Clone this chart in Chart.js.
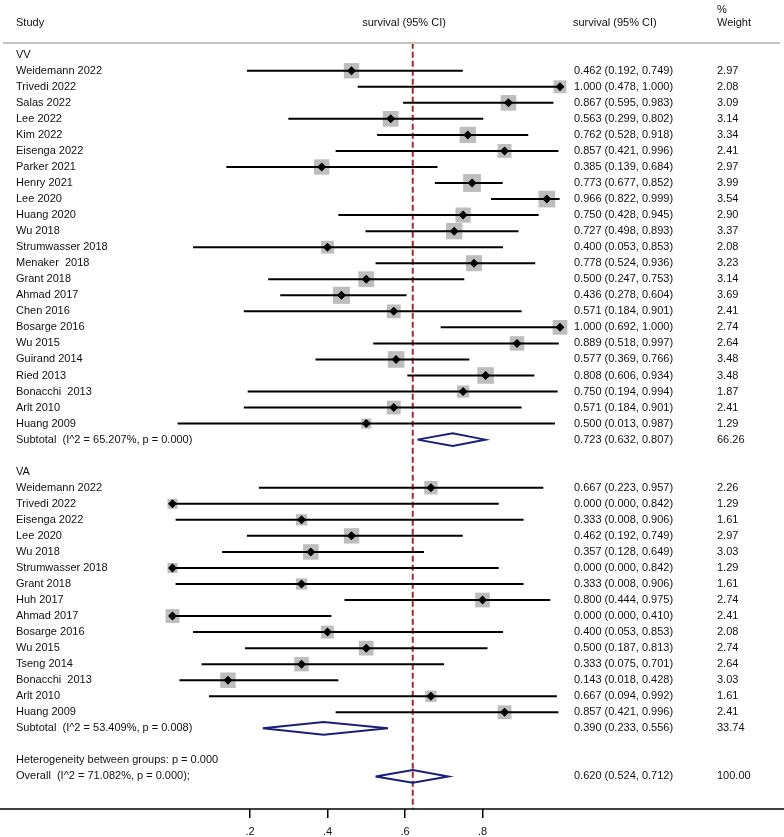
<!DOCTYPE html>
<html>
<head>
<meta charset="utf-8">
<script src="https://cdn.jsdelivr.net/npm/chart.js@4.4.1/dist/chart.umd.min.js"></script>
<style>
  body { margin: 0; background: #fff; }
  #wrap { width: 784px; height: 837px; }
</style>
</head>
<body>
<div id="wrap"><canvas id="forest" width="784" height="837"></canvas></div>
<script>
// group VV
const vvStudies = ["Weidemann 2022", "Trivedi 2022", "Salas 2022", "Lee 2022", "Kim 2022", "Eisenga 2022", "Parker 2021", "Henry 2021", "Lee 2020", "Huang 2020", "Wu 2018", "Strumwasser 2018", "Menaker  2018", "Grant 2018", "Ahmad 2017", "Chen 2016", "Bosarge 2016", "Wu 2015", "Guirand 2014", "Ried 2013", "Bonacchi  2013", "Arlt 2010", "Huang 2009"];
const vvEst = [0.462, 1.000, 0.867, 0.563, 0.762, 0.857, 0.385, 0.773, 0.966, 0.750, 0.727, 0.400, 0.778, 0.500, 0.436, 0.571, 1.000, 0.889, 0.577, 0.808, 0.750, 0.571, 0.500];
const vvLow = [0.192, 0.478, 0.595, 0.299, 0.528, 0.421, 0.139, 0.677, 0.822, 0.428, 0.498, 0.053, 0.524, 0.247, 0.278, 0.184, 0.692, 0.518, 0.369, 0.606, 0.194, 0.184, 0.013];
const vvHigh = [0.749, 1.000, 0.983, 0.802, 0.918, 0.996, 0.684, 0.852, 0.999, 0.945, 0.893, 0.853, 0.936, 0.753, 0.604, 0.901, 1.000, 0.997, 0.766, 0.934, 0.994, 0.901, 0.987];
const vvWeight = [2.97, 2.08, 3.09, 3.14, 3.34, 2.41, 2.97, 3.99, 3.54, 2.90, 3.37, 2.08, 3.23, 3.14, 3.69, 2.41, 2.74, 2.64, 3.48, 3.48, 1.87, 2.41, 1.29];
const vvSubtotal = { label: "Subtotal  (I^2 = 65.207%, p = 0.000)", est: 0.723, low: 0.632, high: 0.807, weight: "66.26" };

// group VA
const vaStudies = ["Weidemann 2022", "Trivedi 2022", "Eisenga 2022", "Lee 2020", "Wu 2018", "Strumwasser 2018", "Grant 2018", "Huh 2017", "Ahmad 2017", "Bosarge 2016", "Wu 2015", "Tseng 2014", "Bonacchi  2013", "Arlt 2010", "Huang 2009"];
const vaEst = [0.667, 0.000, 0.333, 0.462, 0.357, 0.000, 0.333, 0.800, 0.000, 0.400, 0.500, 0.333, 0.143, 0.667, 0.857];
const vaLow = [0.223, 0.000, 0.008, 0.192, 0.128, 0.000, 0.008, 0.444, 0.000, 0.053, 0.187, 0.075, 0.018, 0.094, 0.421];
const vaHigh = [0.957, 0.842, 0.906, 0.749, 0.649, 0.842, 0.906, 0.975, 0.410, 0.853, 0.813, 0.701, 0.428, 0.992, 0.996];
const vaWeight = [2.26, 1.29, 1.61, 2.97, 3.03, 1.29, 1.61, 2.74, 2.41, 2.08, 2.74, 2.64, 3.03, 1.61, 2.41];
const vaSubtotal = { label: "Subtotal  (I^2 = 53.409%, p = 0.008)", est: 0.390, low: 0.233, high: 0.556, weight: "33.74" };

const overall = { label: "Overall  (I^2 = 71.082%, p = 0.000);", est: 0.620, low: 0.524, high: 0.712, weight: "100.00" };
const heterogeneityText = "Heterogeneity between groups: p = 0.000";
const xTicks = [0.2, 0.4, 0.6, 0.8];

const FONT = '11px "Liberation Sans", Arial, sans-serif';
const fmt = v => v.toFixed(3);
const ciText = (e, l, h) => `${fmt(e)} (${fmt(l)}, ${fmt(h)})`;

// rows: each line of the plot gets a row index
const rows = [];
let r = 0;
rows.push({ row: r++, label: "VV" });
vvStudies.forEach((s, i) => rows.push({ row: r++, label: s, study: true, est: vvEst[i], low: vvLow[i], high: vvHigh[i], w: vvWeight[i] }));
rows.push({ row: r++, label: vvSubtotal.label, diamond: true, ...vvSubtotal });
r++;
rows.push({ row: r++, label: "VA" });
vaStudies.forEach((s, i) => rows.push({ row: r++, label: s, study: true, est: vaEst[i], low: vaLow[i], high: vaHigh[i], w: vaWeight[i] }));
rows.push({ row: r++, label: vaSubtotal.label, diamond: true, ...vaSubtotal });
r++;
rows.push({ row: r++, label: heterogeneityText });
rows.push({ row: r++, label: overall.label, diamond: true, ...overall });

const studyRows = rows.filter(d => d.study);
const diamondRows = rows.filter(d => d.diamond);

const datasets = [];

// confidence interval lines
studyRows.forEach(d => {
    datasets.push({
        type: 'line', data: [{ x: d.low, y: d.row }, { x: d.high, y: d.row }],
        borderColor: '#000', borderWidth: 2, pointRadius: 0, order: 2
    });
});

// weight boxes (gray squares)
datasets.push({
    type: 'scatter',
    data: studyRows.map(d => ({ x: d.est, y: d.row })),
    pointStyle: 'rect',
    pointRadius: studyRows.map(d => 8.9 * Math.sqrt(d.w) / 2 / Math.SQRT1_2),
    backgroundColor: '#bdbdbd', borderWidth: 0, clip: false, order: 3
});

// point estimates
datasets.push({
    type: 'scatter',
    data: studyRows.map(d => ({ x: d.est, y: d.row })),
    pointStyle: 'rectRot', pointRadius: 4.5,
    backgroundColor: '#000', borderWidth: 0, clip: false, order: 1
});

// pooled diamonds
const dh = 0.4;
diamondRows.forEach(d => {
    datasets.push({
        type: 'line',
        data: [{ x: d.low, y: d.row }, { x: d.est, y: d.row - dh }, { x: d.high, y: d.row }, { x: d.est, y: d.row + dh }, { x: d.low, y: d.row }],
        borderColor: '#1a1f78', borderWidth: 2, pointRadius: 0, tension: 0, order: 1
    });
});

// overall line
datasets.push({
    type: 'line',
    data: [{ x: overall.est, y: -0.75 }, { x: overall.est, y: 48 }],
    borderColor: '#a32a2f', borderWidth: 2, borderDash: [6, 3], pointRadius: 0, order: 4
});

const textPlugin = {
    id: 'forestText',
    afterDraw(chart) {
        const { ctx, scales: { x, y } } = chart;
        ctx.save();
        ctx.font = FONT;
        ctx.fillStyle = '#111';
        ctx.textBaseline = 'middle';

        // header
        ctx.textAlign = 'left';
        ctx.fillText("Study", 16, 23);
        ctx.fillText("survival (95% CI)", 573, 23);
        ctx.fillText("%", 717, 10);
        ctx.fillText("Weight", 717, 23);
        ctx.textAlign = 'center';
        ctx.fillText("survival (95% CI)", 404, 23);

        // header separator
        ctx.strokeStyle = '#c4c4c4';
        ctx.lineWidth = 2;
        ctx.beginPath();
        ctx.moveTo(3, 43); ctx.lineTo(780, 43);
        ctx.stroke();

        // rows
        rows.forEach(d => {
            const py = y.getPixelForValue(d.row);
            ctx.textAlign = 'left';
            ctx.fillText(d.label, 16, py);
            if (d.est !== undefined) {
                ctx.fillText(ciText(d.est, d.low, d.high), 574, py);
                ctx.fillText(typeof d.w === 'number' ? d.w.toFixed(2) : d.weight, 717, py);
            }
        });

        // axis line across the whole graph
        ctx.strokeStyle = '#000';
        ctx.lineWidth = 1.5;
        ctx.beginPath();
        ctx.moveTo(0, chart.chartArea.bottom); ctx.lineTo(784, chart.chartArea.bottom);
        ctx.stroke();
        ctx.restore();
    }
};

new Chart(document.getElementById('forest'), {
    type: 'scatter',
    data: { datasets },
    options: {
        responsive: false,
        animation: false,
        events: [],
        layout: { padding: { left: 172.5, right: 224, top: 43, bottom: 0 } },
        plugins: { legend: { display: false }, tooltip: { enabled: false } },
        scales: {
            x: {
                type: 'linear', min: 0, max: 1,
                afterBuildTicks: s => { s.ticks = xTicks.map(v => ({ value: v })); },
                afterFit: s => { s.height = 28; },
                border: { display: false },
                grid: { drawOnChartArea: false, drawTicks: true, tickLength: 9, color: '#000', lineWidth: 1.5 },
                ticks: {
                    color: '#111', padding: 7, maxRotation: 0,
                    font: { family: '"Liberation Sans", Arial, sans-serif', size: 11 },
                    callback: v => String(v).replace(/^0/, '')
                }
            },
            y: {
                type: 'linear', reverse: true, min: -0.73, max: 47.03, display: false
            }
        }
    },
    plugins: [textPlugin]
});
</script>
</body>
</html>
